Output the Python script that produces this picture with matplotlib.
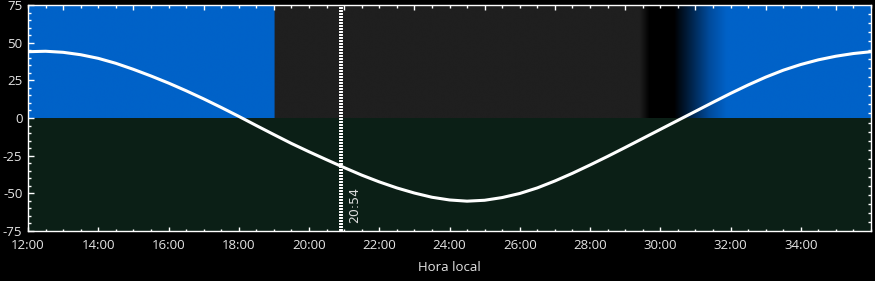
import numpy as np
import matplotlib
matplotlib.use("Agg")
import matplotlib.pyplot as plt
from matplotlib.ticker import FixedLocator, MultipleLocator, FuncFormatter, NullFormatter

plt.rcParams['font.family'] = ['Open Sans', 'DejaVu Sans']
plt.rcParams['axes.unicode_minus'] = False
plt.rcParams['lines.scale_dashes'] = False

# ---- data ----
hours = np.arange(12.0, 36.01, 0.5)          # local time (h, >24 = next day)
altitude = [44.0, 44.3, 43.6, 42.0, 39.6, 36.3, 32.3, 27.9, 23.2, 18.1,
            12.7, 7.0, 1.1, -5.0, -11.0, -16.9, -22.4, -27.7, -32.9, -37.9,
            -42.4, -46.4, -49.8, -52.6, -54.4, -55.2, -54.6, -52.8, -50.1, -46.4,
            -41.8, -36.7, -31.2, -25.5, -19.6, -13.6, -7.6, -1.6, 4.4, 10.4,
            16.3, 21.9, 27.1, 31.7, 35.5, 38.6, 41.0, 42.8, 44.0]
marker_time = 20.9                             # 20:54
marker_label = "20:54"
sky_stop_hours = [12.0, 19.02, 19.02, 29.42, 29.70, 30.40, 30.90, 31.40, 31.90, 36.0]
sky_stop_colors = ["#0062c8", "#0062c8", "#1f1f1f", "#1f1f1f", "#000000",
                   "#000000", "#00254d", "#004b9c", "#0062c8", "#0062c8"]
xtick_hours = [12, 14, 16, 18, 20, 22, 24, 26, 28, 30, 32, 34]
ytick_vals = [-75, -50, -25, 0, 25, 50, 75]
x_label = "Hora local"

# ---- figure ----
fig = plt.figure(figsize=(8.75, 2.81), dpi=100, facecolor="black")
ax = fig.add_axes([28/875, 50/281, 843/875, 226/281])
ax.set_facecolor("#0b1f16")

# sky background (upper half)
def hex2rgb(h):
    h = h.lstrip('#')
    return [int(h[i:i+2], 16) / 255 for i in (0, 2, 4)]
grid = np.linspace(12, 36, 2400)
cols = np.array([hex2rgb(c) for c in sky_stop_colors])
img = np.stack([np.interp(grid, sky_stop_hours, cols[:, k]) for k in range(3)], axis=-1)
ax.imshow(img[np.newaxis, :, :], extent=[12, 36, 0, 75], aspect='auto',
          interpolation='bilinear', zorder=0.5)
ax.axhspan(-75, 0, color="#0b1f16", zorder=0.4)
ax.set_xlim(12, 36)
ax.set_ylim(-75, 75)

ax.plot(hours, altitude, color="white", lw=2.2, zorder=3,
        solid_capstyle='round', solid_joinstyle='round')
ax.axvline(marker_time, color="white", lw=2.8, dashes=(1.44, 0.72), zorder=4)
ax.text(marker_time + 0.4, -57.5, marker_label, rotation=90, ha='center', va='center',
        color="#dddddd", fontsize=9, family=['Liberation Sans Narrow', 'DejaVu Sans'], zorder=5)

# ticks
tc = "white"
ax.xaxis.set_major_locator(FixedLocator(xtick_hours))
ax.xaxis.set_minor_locator(MultipleLocator(0.5))
ax.xaxis.set_major_formatter(FuncFormatter(lambda v, p: f"{int(v):02d}:00"))
ax.yaxis.set_major_locator(FixedLocator(ytick_vals))
ax.yaxis.set_minor_locator(MultipleLocator(5))
ax.tick_params(axis='both', which='both', direction='in', colors=tc, labelcolor="#e4e4e4",
               labelsize=9.5)
ax.tick_params(axis='x', which='major', length=3.0, width=1, pad=5.5)
ax.tick_params(axis='x', which='minor', length=1.6, width=1)
ax.tick_params(axis='y', which='major', length=4.0, width=1, pad=4)
ax.tick_params(axis='y', which='minor', length=2.2, width=1)
for s in ax.spines.values():
    s.set_color("white")
    s.set_linewidth(1.0)
    s.set_zorder(6)
ax.set_xlabel(x_label, color="#e4e4e4", fontsize=9.5, labelpad=7)

# top axis (ticks only)
axt = ax.twiny()
axt.set_xlim(12, 36)
axt.xaxis.set_major_locator(FixedLocator(list(range(13, 36, 2))))
axt.xaxis.set_minor_locator(MultipleLocator(0.5))
axt.xaxis.set_major_formatter(NullFormatter())
axt.tick_params(axis='x', which='major', direction='in', colors=tc, length=3.6, width=1)
axt.tick_params(axis='x', which='minor', direction='in', colors=tc, length=1.8, width=1)
for s in axt.spines.values():
    s.set_visible(False)

# right axis (ticks only)
axr = ax.twinx()
axr.set_ylim(-75, 75)
axr.yaxis.set_major_locator(FixedLocator(list(range(-69, 75, 6))))
axr.yaxis.set_major_formatter(NullFormatter())
axr.tick_params(axis='y', which='major', direction='in', colors=tc, length=2.2, width=1)
for s in axr.spines.values():
    s.set_visible(False)

fig.savefig("out.png", dpi=100, facecolor="black")
